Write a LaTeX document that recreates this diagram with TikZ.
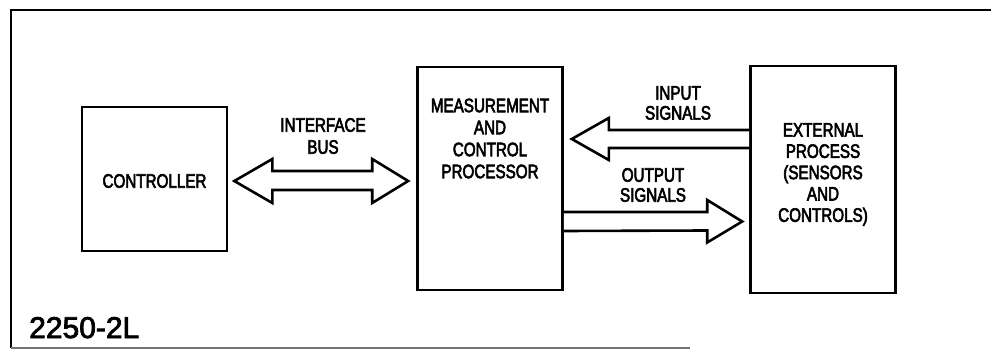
\documentclass[tikz,border=0pt]{standalone}
\usepackage{fontspec}
\usetikzlibrary{calc}
\newfontfamily\lblfont[FakeStretch=0.78,FakeBold=3]{Liberation Sans}
\newfontfamily\numfont[FakeBold=2.5]{Liberation Sans}
\tikzset{
  blk/.style={draw, line width=2.6pt, rectangle, inner sep=0pt, minimum width=145pt},
  txt/.style={inner sep=0pt, align=center, font=\lblfont\fontsize{19.5}{22}\selectfont},
  barrow/.style={draw, line width=2.6pt, line join=miter, fill=white},
  frame/.style={line width=2.2pt}
}
\begin{document}
\begin{tikzpicture}[x=1pt,y=-1pt]
\useasboundingbox (0,0) rectangle (991,350);
% frame
\coordinate (ftr) at (991,10);
\coordinate (ftl) at (11,10);
\coordinate (fbl) at (11,348);
\coordinate (fbr) at (690,348);
\draw[frame] (ftr) -- (ftl) -- (fbl);
\draw[line width=1.4pt, black!55] (fbl) -- (fbr);
% boxes
\node[blk, minimum height=144pt] (ctrl) at (154.5,179) {};
\node[txt] (ctrlt) at (154.5,181) {CONTROLLER};
\node[blk, minimum height=223pt] (mcp) at (490,178.5) {};
\node[txt] (mcpt) at (490,138.5) {MEASUREMENT\\AND\\CONTROL\\PROCESSOR};
\node[blk, minimum height=227pt] (ext) at (823,179.5) {};
\node[txt, font=\lblfont\fontsize{19.5}{21.3}\selectfont] (extt) at (823,174.5) {EXTERNAL\\PROCESS\\(SENSORS\\AND\\CONTROLS)};
% labels
\node[txt] (ibus) at (323,136) {INTERFACE\\BUS};
\node[txt, font=\lblfont\fontsize{19.5}{20}\selectfont] (isig) at (678,103) {INPUT\\SIGNALS};
\node[txt, font=\lblfont\fontsize{19.5}{20}\selectfont] (osig) at (653,185) {OUTPUT\\SIGNALS};
\node[inner sep=0pt, anchor=base west, font=\numfont\fontsize{30}{30}\selectfont] (fig) at (29,338) {2250-2L};
% interface bus double arrow
\coordinate (bl) at ($(ctrl.east |- 0,181)+(6,0)$);
\coordinate (br) at ($(mcp.west |- 0,181)+(-8,0)$);
\draw[barrow] (bl) -- ++(38,-22) -- ++(0,12) -- ($(br)+(-36,-10)$) -- ++(0,-12) -- (br)
  -- ++(-36,22) -- ++(0,-13) -- ($(bl)+(38,9)$) -- ++(0,13) -- cycle;
% input signals arrow
\coordinate (it) at ($(mcp.east |- 0,139)+(8,0)$);
\coordinate (ie) at (ext.west |- 0,139);
\draw[barrow] (ie) ++(0,-9) -- ($(it)+(37,-9)$) -- ++(0,-12) -- (it) -- ++(37,21) -- ++(0,-12) -- ($(ie)+(0,9)$);
% output signals arrow
\coordinate (os) at (mcp.east |- 0,221.5);
\coordinate (ot) at ($(ext.west |- 0,221.5)+(-7,0)$);
\draw[barrow] ($(os)+(0,-9.5)$) -- ($(ot)+(-35,-9.5)$) -- ++(0,-12) -- (ot) -- ++(-35,21) -- ++(0,-12) -- ($(os)+(0,9.5)$);
\end{tikzpicture}
\end{document}
